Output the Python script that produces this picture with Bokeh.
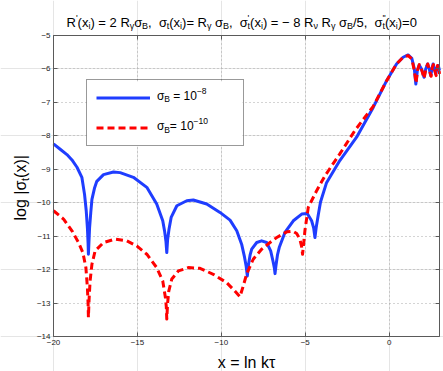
import math
from bokeh.plotting import figure
from bokeh.models import (Range1d, LinearAxis, FixedTicker, Label, Legend,
                          LegendItem, ColumnDataSource, BoxAnnotation)
from bokeh.embed import file_html
from bokeh.resources import INLINE

# ---------------- data ----------------
blue_x = [-20, -19.6, -19.2, -18.9, -18.6, -18.31, -18.15, -18.05, -17.98, -17.94,
          -17.92, -17.89, -17.85, -17.78, -17.71, -17.55, -17.42, -17.02, -16.43,
          -16.03, -15.24, -14.44, -13.85, -13.49, -13.38, -13.30, -13.25, -13.20,
          -13.12, -12.99, -12.65, -12.06, -11.67, -10.87, -10.08, -9.48, -9.08,
          -8.79, -8.62, -8.52, -8.45, -8.38, -8.28, -8.19, -7.89, -7.6, -7.3,
          -7.06, -6.92, -6.84, -6.8, -6.75, -6.65, -6.55, -6.21, -5.71, -5.21,
          -4.88, -4.62, -4.5, -4.42, -4.35, -4.22, -4.09, -3.73, -2.94, -1.94,
          -0.95, -0.15, 0.44, 0.83, 1.13, 1.35, 1.5, 1.59, 1.68, 1.79, 1.93,
          2.08, 2.18, 2.29, 2.38, 2.48, 2.55, 2.62, 2.70, 2.78, 2.86, 2.93, 3.0]
blue_y = [-8.24, -8.40, -8.56, -8.72, -8.94, -9.24, -9.75, -10.24, -10.75, -11.2,
          -11.54, -11.2, -10.75, -10.3, -9.9, -9.55, -9.36, -9.16, -9.08,
          -9.10, -9.24, -9.54, -10.04, -10.54, -10.85, -11.15, -11.49, -11.1,
          -10.8, -10.44, -10.09, -9.94, -9.92, -10.04, -10.29, -10.52, -10.84,
          -11.24, -11.62, -11.9, -12.19, -11.85, -11.55, -11.39, -11.19, -11.14, -11.19,
          -11.44, -11.75, -11.95, -12.12, -11.9, -11.55, -11.34, -10.89, -10.54, -10.34,
          -10.32, -10.54, -10.75, -11.04, -10.75, -10.35, -9.98, -9.4, -8.74, -8.04,
          -7.15, -6.35, -5.85, -5.65, -5.58, -5.68, -6.0, -6.45, -6.05, -5.88, -6.0,
          -6.25, -6.0, -5.85, -5.98, -6.2, -6.0, -5.85, -6.0, -6.15, -5.95, -5.9, -6.05]

red_x = [-20, -19.4, -18.9, -18.51, -18.25, -18.07, -17.98, -17.94, -17.92, -17.88,
         -17.82, -17.71, -17.52, -17.02, -16.33, -15.63, -15.04, -14.44, -13.85,
         -13.49, -13.33, -13.28, -13.25, -13.2, -13.13, -12.95, -12.56, -11.96,
         -11.27, -10.48, -9.68, -9.18, -8.89, -8.7, -8.49, -8.1, -7.6, -7.1, -6.7,
         -6.1, -5.75, -5.51, -5.32, -5.22, -5.16, -5.09, -5.02, -4.82, -4.32, -3.82,
         -2.94, -2.04, -0.95, -0.15, 0.44, 0.83, 1.13, 1.35, 1.5, 1.6, 1.7, 1.8,
         1.95, 2.08, 2.2, 2.3, 2.4, 2.5, 2.57, 2.64, 2.72, 2.8, 2.88, 2.95, 3.0]
red_y = [-10.24, -10.49, -10.84, -11.19, -11.49, -11.94, -12.54, -13.0, -13.43, -12.9,
         -12.34, -11.84, -11.44, -11.19, -11.09, -11.14, -11.29, -11.54, -11.94,
         -12.34, -12.84, -13.1, -13.48, -13.0, -12.64, -12.28, -12.04, -11.94,
         -11.96, -12.14, -12.39, -12.65, -12.81, -12.5, -12.13, -11.69, -11.39, -11.19, -11.04,
         -10.87, -10.85, -10.92, -11.09, -11.3, -11.54, -11.2, -10.84, -10.14, -9.64, -9.19,
         -8.54, -7.84, -7.12, -6.35, -5.85, -5.65, -5.6, -5.7, -6.05, -6.42, -6.02, -5.87,
         -6.05, -6.28, -5.98, -5.85, -6.05, -6.22, -5.95, -5.87, -6.05, -6.2, -5.9, -5.95, -6.15]

x_ticks = [-20, -15, -10, -5, 0]
x_tick_labels = ["\u221220", "\u221215", "\u221210", "\u22125", "0"]
y_ticks = [-14, -13, -12, -11, -10, -9, -8, -7, -6, -5]
y_tick_labels = ["\u221214", "\u221213", "\u221212", "\u221211", "\u221210",
                 "\u22129", "\u22128", "\u22127", "\u22126", "\u22125"]

# ---------------- geometry ----------------
X0, X1, Y0, Y1 = -20, 3, -14, -5          # data box
FONT = "Liberation Sans"
W, H = 443, 371
FL, FR, FT, FB = 53, 439, 35, 336          # data box edges in window pixels
SX = (X1 - X0) / (FR - FL)
SY = (Y1 - Y0) / (FB - FT)

def dx(px):
    return X0 + (px - FL) * SX

def dy(py):
    return Y1 - (py - FT) * SY

# the frame covers the whole canvas so that texts around the box are not clipped
p = figure(width=W, height=H, x_range=Range1d(dx(0), dx(W)), y_range=Range1d(dy(H), dy(0)),
           output_backend="svg", toolbar_location=None,
           min_border_left=0, min_border_right=0, min_border_top=0, min_border_bottom=0,
           x_axis_location=None, y_axis_location=None)
p.background_fill_color = "white"
p.border_fill_color = "white"
p.outline_line_color = None

def make_axis(place, loc, ticks, labels, show, bounds):
    ax = LinearAxis(fixed_location=loc, bounds=bounds)
    ax.ticker = FixedTicker(ticks=ticks)
    ax.major_label_overrides = {t: (l if show else "") for t, l in zip(ticks, labels)}
    ax.axis_line_color = "#5a5a5a"
    ax.major_tick_line_color = "#5a5a5a"
    ax.major_tick_in = 4
    ax.major_tick_out = 0
    ax.minor_tick_in = 0
    ax.minor_tick_out = 0
    ax.major_label_text_font = FONT
    ax.major_label_text_color = "#222222"
    ax.major_label_text_font_size = "8px" if show else "0px"
    ax.major_label_standoff = 3 if show else 0
    p.add_layout(ax, place)
    return ax

make_axis("below", Y0, x_ticks, x_tick_labels, True, (X0, X1))
make_axis("above", Y1, x_ticks, x_tick_labels, False, (X0, X1))
make_axis("left", X0, y_ticks, y_tick_labels, True, (Y0, Y1))
make_axis("right", X1, y_ticks, y_tick_labels, False, (Y0, Y1))

from bokeh.models import Grid
gx = Grid(dimension=0, ticker=FixedTicker(ticks=x_ticks), bounds=(X0, X1), cross_bounds=(Y0, Y1))
gy = Grid(dimension=1, ticker=FixedTicker(ticks=y_ticks), bounds=(Y0, Y1), cross_bounds=(X0, X1))
for g in (gx, gy):
    g.grid_line_color = "#a8a8a8"
    g.grid_line_dash = "1 3"
    g.grid_line_width = 1
    p.add_layout(g, "center")

src_b = ColumnDataSource(dict(x=blue_x, y=blue_y))
src_r = ColumnDataSource(dict(x=red_x, y=red_y))
rb = p.line("x", "y", source=src_b, line_color="#1f3dff", line_width=3, line_join="round")
rr = p.line("x", "y", source=src_r, line_color="#ff0000", line_width=3,
            line_dash="7 4", line_join="round")

# legend: white box first, then the legend (transparent) with its samples
p.add_layout(BoxAnnotation(left=dx(86), right=dx(242), top=dy(81), bottom=dy(146),
                           fill_color="white", fill_alpha=1, line_color=None, level="annotation"))
legend = Legend(items=[LegendItem(label=" ", renderers=[rb]),
                       LegendItem(label=" ", renderers=[rr])],
                location=(86, H - 146), padding=9, spacing=13,
                glyph_width=54, glyph_height=17, label_height=17, label_width=80,
                label_standoff=4, margin=0,
                border_line_color="#333333", border_line_width=1,
                background_fill_alpha=0,
                label_text_font_size="8px")
p.add_layout(legend)

# ---------------- text helpers ----------------
CW = {' ': .278, '(': .333, ')': .333, ',': .278, '/': .278, '=': .584,
      '\u2212': .584, 'B': .667, 'R': .722, 'i': .222, 't': .278, 'x': .5,
      'l': .222, 'o': .556, 'g': .556, '|': .26, 'n': .556, 'k': .5, "'": .191,
      '\u03c3': .6, '\u03b3': .5, '\u03bd': .5, '\u03c4': .45}

def tw(s, size):
    return sum(CW.get(c, .556) for c in s) * size

def put(text, wx, wy, size, angle=0.0, align="left"):
    p.add_layout(Label(x=dx(wx), y=dy(wy), text=text, text_font=FONT,
                       text_font_size=f"{size}px", text_color="black", level="overlay",
                       text_align=align, text_baseline="alphabetic", angle=angle))

def compose(segs, x0, base, main, small, sub_off, sup_off, vertical=False):
    pos = x0
    for s, kind in segs:
        size = main if kind == "n" else small
        off = sub_off if kind == "s" else (-sup_off if kind in ("p", "ps") else 0)
        lead = len(s) - len(s.lstrip(" "))
        body = s.strip(" ")
        if body:
            if vertical:
                put(body, base + off, pos - tw(s[:lead], size), size, angle=math.pi / 2)
            else:
                put(body, pos + tw(s[:lead], size), base + off, size)
        if kind != "ps":
            pos = pos - tw(s, size) if vertical else pos + tw(s, size)

# title
title_segs = [("R", "n"), ("'", "p"), ("(x", "n"), ("i", "s"), (") = 2 R", "n"),
              ("\u03b3", "s"), ("\u03c3", "n"), ("B", "s"), (",", "n"), ("  \u03c3", "n"),
              ("t", "s"), ("(x", "n"), ("i", "s"), (")= R", "n"), ("\u03b3", "s"),
              (" \u03c3", "n"), ("B", "s"), (",", "n"), ("  \u03c3", "n"), ("'", "ps"),
              ("t", "s"), ("(x", "n"), ("i", "s"), (") = \u2212 8 R", "n"), ("\u03bd", "s"),
              (" R", "n"), ("\u03b3", "s"), (" \u03c3", "n"), ("B", "s"), ("/5,", "n"),
              ("  \u03c3", "n"), ("''", "ps"), ("t", "s"), ("(x", "n"), ("i", "s"),
              (")=0", "n")]
compose(title_segs, 66, 22, 13, 9, 3.5, 5)

# legend texts
compose([("\u03c3", "n"), ("B", "s"), (" = 10", "n"), ("\u22128", "p")], 156.5, 95, 12, 8.5, 3.5, 5)
compose([("\u03c3", "n"), ("B", "s"), ("= 10", "n"), ("\u221210", "p")], 156.5, 125.5, 12, 8.5, 3.5, 5)

# axis labels
put("x = ln k\u03c4", 246, 361.5, 16, align="center")
compose([("log |\u03c3", "n"), ("t", "s"), ("(x)|", "n")], 220, 20, 16, 11, 4, 0, vertical=True)

open("out.html", "w").write(file_html(p, INLINE))
